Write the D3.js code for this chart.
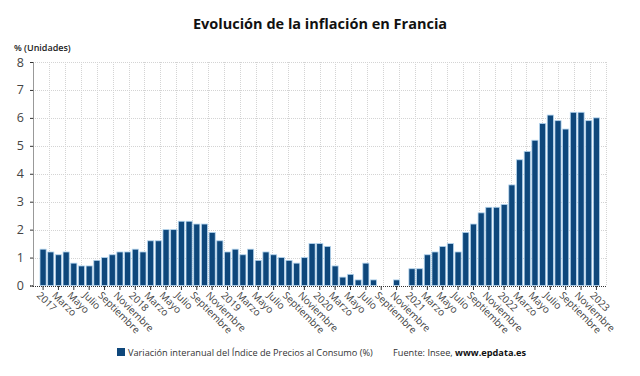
<!DOCTYPE html>
<html>
<head>
<meta charset="utf-8">
<script src="https://cdn.jsdelivr.net/npm/d3@7"></script>
<style>
  body { margin: 0; background: #fff; }
  svg { display: block; font-family: "Open Sans", "Noto Sans", sans-serif; }
</style>
</head>
<body>
<div id="chart"></div>
<script>
// Data: year-on-year CPI change, France, Jan 2017 - Jan 2023
const years = [2017, 2018, 2019, 2020, 2021, 2022, 2023];
const monthNames = ['Enero', 'Febrero', 'Marzo', 'Abril', 'Mayo', 'Junio', 'Julio',
  'Agosto', 'Septiembre', 'Octubre', 'Noviembre', 'Diciembre'];
const values = [
  1.3, 1.2, 1.1, 1.2, 0.8, 0.7, 0.7, 0.9, 1.0, 1.1, 1.2, 1.2, // 2017
  1.3, 1.2, 1.6, 1.6, 2.0, 2.0, 2.3, 2.3, 2.2, 2.2, 1.9, 1.6, // 2018
  1.2, 1.3, 1.1, 1.3, 0.9, 1.2, 1.1, 1.0, 0.9, 0.8, 1.0, 1.5, // 2019
  1.5, 1.4, 0.7, 0.3, 0.4, 0.2, 0.8, 0.2, 0.0, 0.0, 0.2, 0.0, // 2020
  0.6, 0.6, 1.1, 1.2, 1.4, 1.5, 1.2, 1.9, 2.2, 2.6, 2.8, 2.8, // 2021
  2.9, 3.6, 4.5, 4.8, 5.2, 5.8, 6.1, 5.9, 5.6, 6.2, 6.2, 5.9, // 2022
  6.0                                                         // 2023
];
const yTicks = [0, 1, 2, 3, 4, 5, 6, 7, 8];

const title = 'Evolución de la inflación en Francia';
const unitLabel = '% (Unidades)';
const seriesName = 'Variación interanual del Índice de Precios al Consumo (%)';

// Build month records
const months = values.map((v, i) => {
  const year = years[Math.floor(i / 12)];
  const m = i % 12;
  return { key: `${year}-${m + 1}`, year, m, value: v };
});

const width = 640;
const height = 376;
const plot = { left: 33, right: 606, top: 62, bottom: 285.5 };

const svg = d3.select('#chart')
  .append('svg')
  .attr('width', width)
  .attr('height', height);

// Title
svg.append('text')
  .attr('x', 320)
  .attr('y', 29)
  .attr('text-anchor', 'middle')
  .style('font-size', '14.5px')
  .style('font-weight', 'bold')
  .style('fill', '#111')
  .text(title);

svg.append('text')
  .attr('x', 14)
  .attr('y', 51)
  .style('font-size', '9px')
  .style('font-weight', '600')
  .style('fill', '#222')
  .text(unitLabel);

// Scales
const x = d3.scaleBand()
  .domain(months.map(d => d.key))
  .range([40, 599.5])
  .paddingInner(0.2);

const y = d3.scaleLinear()
  .domain([0, 8])
  .range([plot.bottom, plot.top]);

// Vertical grid (36 equal divisions of the plot width)
const gx = d3.scaleLinear().domain([0, 36]).range([plot.left, plot.right]);
svg.append('g')
  .selectAll('line')
  .data(d3.range(1, 37))
  .enter()
  .append('line')
  .attr('x1', d => Math.round(gx(d)) + 0.5)
  .attr('x2', d => Math.round(gx(d)) + 0.5)
  .attr('y1', plot.top)
  .attr('y2', plot.bottom)
  .style('stroke', '#d4d4d4')
  .style('stroke-width', 1)
  .style('stroke-dasharray', '1,1');

// Horizontal grid
svg.append('g')
  .selectAll('line')
  .data(yTicks.filter(d => d > 0))
  .enter()
  .append('line')
  .attr('x1', plot.left)
  .attr('x2', plot.right)
  .attr('y1', d => Math.round(y(d)) + 0.5)
  .attr('y2', d => Math.round(y(d)) + 0.5)
  .style('stroke', '#d4d4d4')
  .style('stroke-width', 1)
  .style('stroke-dasharray', '1,1');

// Y axis
const yAxis = svg.append('g')
  .attr('transform', `translate(${plot.left},0)`)
  .call(d3.axisLeft(y).tickValues(yTicks).tickSize(3).tickFormat(d3.format('d')));
yAxis.select('.domain')
  .style('stroke', '#333')
  .style('stroke-dasharray', '1,1');
yAxis.selectAll('.tick line').style('stroke', '#333');
yAxis.selectAll('.tick text')
  .attr('x', -9)
  .style('font-family', '"Open Sans", "Noto Sans", sans-serif')
  .style('font-size', '12.5px')
  .style('fill', '#444');

// Bars
svg.append('g')
  .selectAll('rect')
  .data(months)
  .enter()
  .append('rect')
  .attr('x', d => x(d.key))
  .attr('width', x.bandwidth())
  .attr('y', d => y(d.value))
  .attr('height', d => y(0) - y(d.value))
  .style('fill', '#0e477b')
  .style('stroke', '#b3d4ee')
  .style('stroke-width', 0.8);

// X axis baseline
svg.append('line')
  .attr('x1', plot.left)
  .attr('x2', plot.right)
  .attr('y1', Math.round(y(0)) + 0.5)
  .attr('y2', Math.round(y(0)) + 0.5)
  .style('stroke', '#333')
  .style('stroke-dasharray', '1,1');

// X ticks every two months
const tickMonths = months.filter(d => d.m % 2 === 0);
const xt = svg.append('g')
  .selectAll('g')
  .data(tickMonths)
  .enter()
  .append('g')
  .attr('transform', d => `translate(${x(d.key) + x.bandwidth() / 2},${Math.round(y(0))})`);

xt.append('line')
  .attr('y1', 0)
  .attr('y2', 4)
  .style('stroke', '#333');

xt.append('text')
  .attr('transform', 'translate(-2,5) rotate(45)')
  .attr('dy', '0.7em')
  .style('font-size', '10px')
  .style('fill', '#444')
  .text(d => d.m === 0 ? d.year : monthNames[d.m]);

// Legend
const legend = svg.append('g');
legend.append('rect')
  .attr('x', 117)
  .attr('y', 348)
  .attr('width', 8)
  .attr('height', 8)
  .style('fill', '#0e477b');
legend.append('text')
  .attr('x', 128)
  .attr('y', 356)
  .style('font-size', '9.2px')
  .style('fill', '#333')
  .text(seriesName);

const source = legend.append('text')
  .attr('x', 393)
  .attr('y', 356)
  .style('font-size', '9.2px')
  .style('fill', '#333');
source.append('tspan').text('Fuente: Insee, ');
source.append('tspan').style('font-weight', 'bold').style('fill', '#111').text('www.epdata.es');
</script>
</body>
</html>
